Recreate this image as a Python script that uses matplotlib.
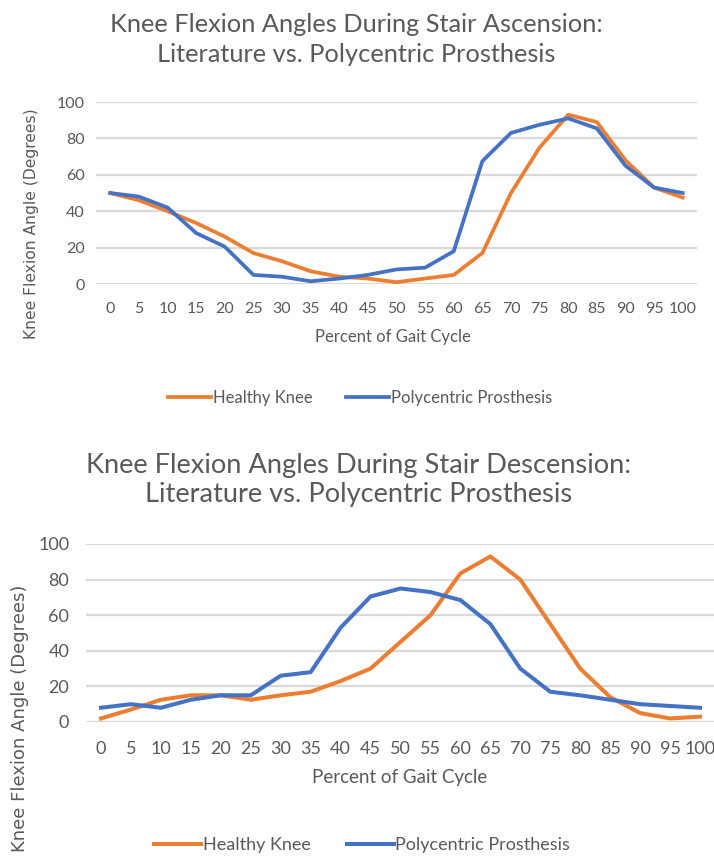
import matplotlib
matplotlib.use("Agg")
import matplotlib.pyplot as plt
from matplotlib.lines import Line2D

# Gait cycle percentages (category axis)
percent = [0, 5, 10, 15, 20, 25, 30, 35, 40, 45, 50,
           55, 60, 65, 70, 75, 80, 85, 90, 95, 100]

# Stair ascension knee flexion (degrees)
ascent_healthy = [50, 46, 40, 33.5, 26, 17, 12.5, 7, 4, 3, 1,
                  3, 5, 17, 50, 75, 93, 89, 68, 53, 47.5]
ascent_prosthesis = [50, 48, 42, 28, 20.5, 5, 4, 1.5, 3, 5, 8,
                     9, 18, 67.5, 83, 87.5, 91, 85.5, 65, 53, 50]

# Stair descension knee flexion (degrees)
descent_healthy = [2, 7, 12.5, 15, 15, 12.5, 15, 17, 23, 30, 45,
                   60, 83.5, 93, 80, 55, 30, 14, 5, 2, 3]
descent_prosthesis = [8, 10, 8, 12.5, 15, 15, 26, 28, 53, 70.5, 75,
                      73, 68.5, 55, 30, 17, 15, 12.5, 10, 9, 8]

y_ticks = [0, 20, 40, 60, 80, 100]
series_names = ["Healthy Knee", "Polycentric Prosthesis"]

ORANGE = "#ED7D31"
BLUE = "#4472C4"
TEXT = "#595959"
GRID = "#D9D9D9"
FONT = ["Lato", "DejaVu Sans"]
YFONT = ["DejaVu Sans"]

W, H = 714, 857
fig = plt.figure(figsize=(W / 100, H / 100), dpi=100)


def px_axes(left, right, top, bottom):
    return fig.add_axes([left / W, 1 - bottom / H, (right - left) / W, (bottom - top) / H])


def style_axes(ax, tick_size, ypad, xpad):
    ax.set_xlim(-2.5, 102.5)
    ax.set_ylim(0, 100)
    ax.set_xticks(percent)
    ax.set_xticklabels([str(p) for p in percent], family=FONT, fontsize=tick_size, color=TEXT)
    ax.set_yticks(y_ticks)
    ax.set_yticklabels([str(v) for v in y_ticks], family=FONT, fontsize=tick_size, color=TEXT)
    ax.tick_params(length=0)
    ax.tick_params(axis="y", pad=ypad)
    ax.tick_params(axis="x", pad=xpad)
    for s in ax.spines.values():
        s.set_visible(False)
    ax.yaxis.grid(True, color=GRID, lw=1.6)
    ax.set_axisbelow(True)
    ax.patch.set_alpha(0)


def draw_lines(ax, healthy, prosthesis, lw):
    ax.plot(percent, healthy, color=ORANGE, lw=lw, solid_joinstyle="round", zorder=3)
    ax.plot(percent, prosthesis, color=BLUE, lw=lw, solid_joinstyle="round", zorder=4)


# ---- Stair ascension ----
ax1 = px_axes(96, 697, 102, 284)
style_axes(ax1, 11.5, 8, 13)
draw_lines(ax1, ascent_healthy, ascent_prosthesis, 2.7)
fig.text(356 / W, 1 - 24 / H, "Knee Flexion Angles During Stair Ascension:",
         family=FONT, fontsize=18.3, color=TEXT, ha="center", va="center")
fig.text(356 / W, 1 - 55 / H, "Literature vs. Polycentric Prosthesis",
         family=FONT, fontsize=18.3, color=TEXT, ha="center", va="center")
fig.text(393 / W, 1 - 337 / H, "Percent of Gait Cycle",
         family=FONT, fontsize=12, color=TEXT, ha="center", va="center")
fig.text(32 / W, 1 - 224 / H, "Knee Flexion Angle (Degrees)",
         family=YFONT, fontsize=11.2, color=TEXT, ha="center", va="center", rotation=90)

handles = [Line2D([], [], color=ORANGE, lw=2.7), Line2D([], [], color=BLUE, lw=2.7)]
fig.legend(handles, series_names, loc="center", bbox_to_anchor=(360 / W, 1 - 398 / H),
           ncol=2, frameon=False, prop={"family": FONT, "size": 12},
           labelcolor=TEXT, handlelength=2.6, handletextpad=0.1, columnspacing=2.0)

# ---- Stair descension ----
ax2 = px_axes(86, 715, 544, 722)
style_axes(ax2, 13, 12, 14)
draw_lines(ax2, descent_healthy, descent_prosthesis, 2.9)
fig.text(359 / W, 1 - 466 / H, "Knee Flexion Angles During Stair Descension:",
         family=FONT, fontsize=19.6, color=TEXT, ha="center", va="center")
fig.text(359 / W, 1 - 494 / H, "Literature vs. Polycentric Prosthesis",
         family=FONT, fontsize=19.6, color=TEXT, ha="center", va="center")
fig.text(400 / W, 1 - 777 / H, "Percent of Gait Cycle",
         family=FONT, fontsize=13.5, color=TEXT, ha="center", va="center")
fig.text(20 / W, 1 - 718 / H, "Knee Flexion Angle (Degrees)",
         family=YFONT, fontsize=13, color=TEXT, ha="center", va="center", rotation=90)

handles = [Line2D([], [], color=ORANGE, lw=2.9), Line2D([], [], color=BLUE, lw=2.9)]
fig.legend(handles, series_names, loc="center", bbox_to_anchor=(362 / W, 1 - 845 / H),
           ncol=2, frameon=False, prop={"family": FONT, "size": 13},
           labelcolor=TEXT, handlelength=2.6, handletextpad=0.1, columnspacing=2.0)

fig.savefig("out.png", dpi=100)
